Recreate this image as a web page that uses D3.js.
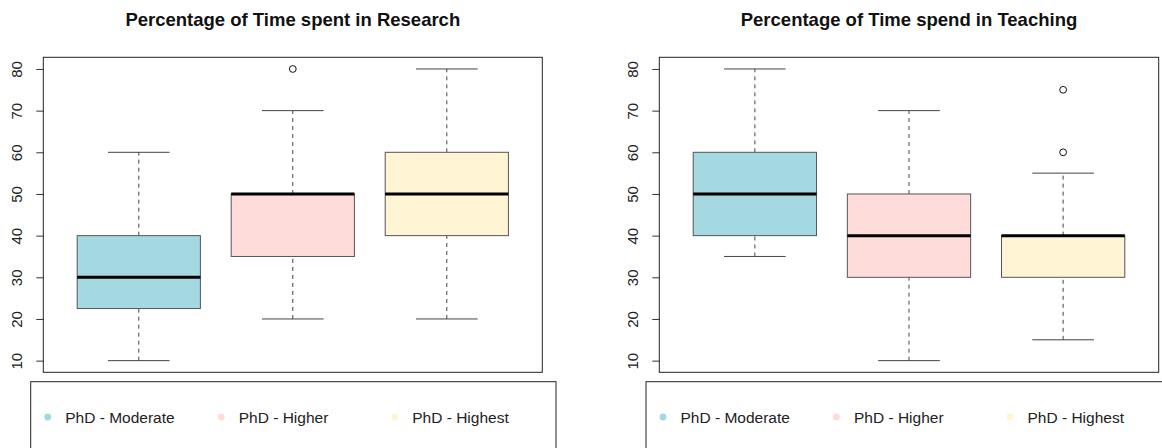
<!DOCTYPE html>
<html>
<head>
<meta charset="utf-8">
<script src="https://cdn.jsdelivr.net/npm/d3@7"></script>
<style>
  body { margin: 0; background: white; }
  svg { display: block; font-family: "Liberation Sans", Arial, Helvetica, sans-serif; }
</style>
</head>
<body>
<div id="chart"></div>
<script>
// groups and colours
const groups = ["PhD - Moderate", "PhD - Higher", "PhD - Highest"];
const groupColors = ["#a4d9e1", "#fedcda", "#fff5d5"];

// five-number summaries: [lower whisker, Q1, median, Q3, upper whisker]
const researchStats = [[10, 22.5, 30, 40, 60], [20, 35, 50, 50, 70], [20, 40, 50, 60, 80]];
const researchOutliers = [[], [80], []];
const teachingStats = [[35, 40, 50, 60, 80], [10, 30, 40, 50, 70], [15, 30, 40, 40, 55]];
const teachingOutliers = [[], [], [60, 75]];

const yTicks = [10, 20, 30, 40, 50, 60, 70, 80];

const width = 1162;
const height = 448;

const svg = d3.select("#chart")
  .append("svg")
  .attr("width", width)
  .attr("height", height)
  .style("background-color", "white");

function drawPanel(opts) {
  const { left, right, top, bottom, title, stats, outliers, legendX, legendW } = opts;

  const x = d3.scaleLinear()
    .domain([0.38, 3.62])
    .range([left, right]);

  const y = d3.scaleLinear()
    .domain([7.2, 82.8])
    .range([bottom, top]);

  const unit = x(1) - x(0);
  const boxHalf = unit * 0.4;
  const capHalf = unit * 0.2;

  const g = svg.append("g");

  // Title
  g.append("text")
    .attr("x", (left + right) / 2)
    .attr("y", 26)
    .attr("text-anchor", "middle")
    .style("font-size", "18.5px")
    .style("font-weight", "bold")
    .style("fill", "#111")
    .text(title);

  // Eixo Y
  const axis = g.append("g")
    .attr("transform", `translate(${left},0)`)
    .call(d3.axisLeft(y).tickValues(yTicks).tickSize(7).tickPadding(0));
  axis.select(".domain").remove();
  axis.selectAll(".tick line").attr("stroke", "#333");
  axis.selectAll(".tick text")
    .attr("transform", "rotate(-90)")
    .attr("x", 0)
    .attr("y", -21)
    .attr("dy", 0)
    .style("text-anchor", "middle")
    .style("font-size", "15px")
    .style("font-family", "'Liberation Sans', Arial, sans-serif")
    .style("fill", "#222");

  // boxes
  const boxes = g.selectAll(".box")
    .data(stats)
    .enter()
    .append("g")
    .attr("class", "box");

  // whiskers (dashed)
  boxes.append("line")
    .attr("x1", (d, i) => x(i + 1))
    .attr("x2", (d, i) => x(i + 1))
    .attr("y1", d => y(d[0]))
    .attr("y2", d => y(d[1]))
    .attr("stroke", "#444")
    .attr("stroke-dasharray", "4,4");
  boxes.append("line")
    .attr("x1", (d, i) => x(i + 1))
    .attr("x2", (d, i) => x(i + 1))
    .attr("y1", d => y(d[3]))
    .attr("y2", d => y(d[4]))
    .attr("stroke", "#444")
    .attr("stroke-dasharray", "4,4");

  // caps
  boxes.append("line")
    .attr("x1", (d, i) => x(i + 1) - capHalf)
    .attr("x2", (d, i) => x(i + 1) + capHalf)
    .attr("y1", d => y(d[0]))
    .attr("y2", d => y(d[0]))
    .attr("stroke", "#444");
  boxes.append("line")
    .attr("x1", (d, i) => x(i + 1) - capHalf)
    .attr("x2", (d, i) => x(i + 1) + capHalf)
    .attr("y1", d => y(d[4]))
    .attr("y2", d => y(d[4]))
    .attr("stroke", "#444");

  // box
  boxes.append("rect")
    .attr("x", (d, i) => x(i + 1) - boxHalf)
    .attr("width", boxHalf * 2)
    .attr("y", d => y(d[3]))
    .attr("height", d => y(d[1]) - y(d[3]))
    .attr("fill", (d, i) => groupColors[i])
    .attr("stroke", "#555");

  // median
  boxes.append("line")
    .attr("x1", (d, i) => x(i + 1) - boxHalf)
    .attr("x2", (d, i) => x(i + 1) + boxHalf)
    .attr("y1", d => y(d[2]))
    .attr("y2", d => y(d[2]))
    .attr("stroke", "black")
    .attr("stroke-width", 3);

  // outliers
  outliers.forEach((vals, i) => {
    g.selectAll(null)
      .data(vals)
      .enter()
      .append("circle")
      .attr("cx", x(i + 1))
      .attr("cy", v => y(v))
      .attr("r", 3.4)
      .attr("fill", "none")
      .attr("stroke", "#111");
  });

  // plot frame
  g.append("rect")
    .attr("x", left)
    .attr("y", top)
    .attr("width", right - left)
    .attr("height", bottom - top)
    .attr("fill", "none")
    .attr("stroke", "#222");

  // legend
  g.append("rect")
    .attr("x", legendX)
    .attr("y", 381.7)
    .attr("width", legendW)
    .attr("height", 120)
    .attr("fill", "none")
    .attr("stroke", "#222");

  const items = g.selectAll(".leg")
    .data(groups)
    .enter()
    .append("g")
    .attr("transform", (d, i) => `translate(${legendX + 17 + i * 173.5},417)`);
  items.append("circle")
    .attr("r", 3.4)
    .attr("fill", (d, i) => groupColors[i]);
  items.append("text")
    .attr("x", 17.5)
    .attr("y", 5.5)
    .style("font-size", "15.5px")
    .style("fill", "#222")
    .text(d => d);
}

drawPanel({
  left: 43.3, right: 542.3, top: 57.3, bottom: 372.3,
  title: "Percentage of Time spent in Research",
  stats: researchStats, outliers: researchOutliers,
  legendX: 30.7, legendW: 525.3
});

drawPanel({
  left: 659.3, right: 1158.7, top: 57.3, bottom: 372.3,
  title: "Percentage of Time spend in Teaching",
  stats: teachingStats, outliers: teachingOutliers,
  legendX: 646, legendW: 600
});
</script>
</body>
</html>
